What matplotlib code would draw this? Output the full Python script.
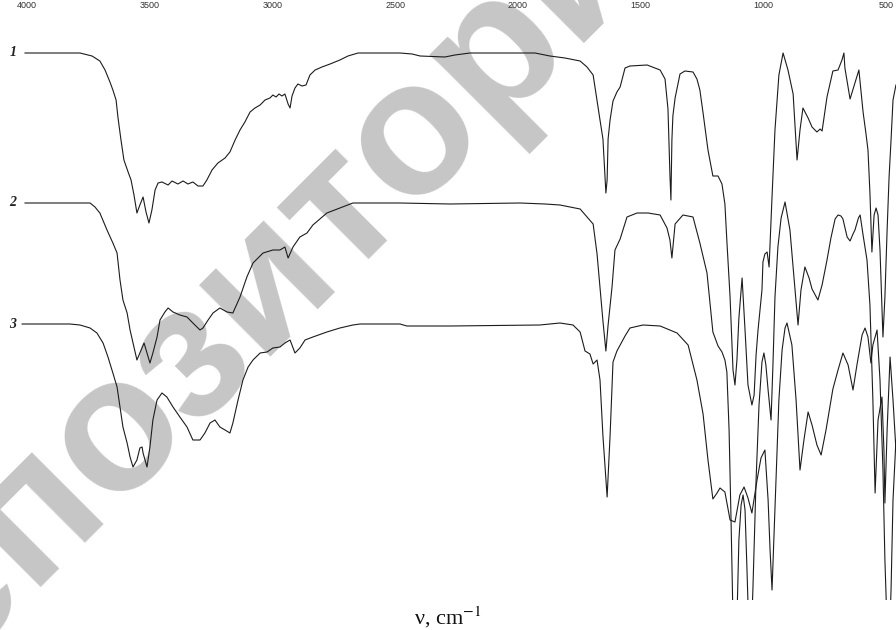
import matplotlib
matplotlib.use("Agg")
import matplotlib.pyplot as plt

# ---- data: IR spectra, wavenumber (cm-1) and relative transmittance (%) ----
nu_1 = [4008, 3866, 3784, 3735, 3703, 3682, 3662, 3650, 3637, 3629, 3617, 3605, 3588, 3576, 3564,
        3552, 3540, 3527, 3515, 3503, 3491, 3478, 3466, 3450, 3425, 3409, 3385, 3364, 3344, 3324,
        3303, 3283, 3267, 3246, 3222, 3193, 3173, 3152, 3132, 3112, 3091, 3071, 3050, 3030, 3010,
        2998, 2985, 2973, 2961, 2949, 2936, 2928, 2920, 2908, 2896, 2879, 2863, 2847, 2826, 2798,
        2765, 2725, 2692, 2651, 2480, 2431, 2398, 2297, 2256, 2195, 1930, 1869, 1808, 1746, 1718,
        1693, 1677, 1665, 1653, 1645, 1641, 1636, 1632, 1624, 1612, 1596, 1583, 1563, 1543, 1473,
        1420, 1400, 1388, 1380, 1376, 1372, 1368, 1359, 1339, 1319, 1286, 1270, 1258, 1245, 1225,
        1205, 1184, 1168, 1156, 1148, 1135, 1123, 1115, 1107, 1099, 1086, 1074, 1062, 1046, 1037,
        1029, 1021, 1005, 1001, 993, 984, 976, 964, 952, 936, 919, 899, 878, 862, 850,
        838, 817, 801, 781, 768, 760, 740, 716, 695, 679, 671, 667, 646, 626, 610,
        593, 581, 573, 565, 557, 548, 540, 532, 524, 512, 504, 495, 487, 479, 471, 459]
t_1 = [100, 100, 100, 99.25, 98, 95.75, 92.75, 90.75, 88.25, 83.75, 78.25, 73.25, 70.25, 68.25, 64.5,
       60, 62, 64, 60.25, 57.5, 60.75, 65.75, 67.5, 67.75, 67, 68, 67.25, 68, 67.25, 67.75,
       66.75, 66.75, 68.25, 70.75, 72.5, 73.75, 75.25, 78.25, 80.75, 82.75, 85.25, 86.25, 87, 88.25, 88.75,
       89.5, 89, 89.75, 89.25, 89.75, 87.25, 86.25, 89.25, 91.25, 92.25, 91.75, 92, 94.5, 95.75, 96.5,
       97.25, 98.25, 99.25, 100, 100, 99.75, 99.25, 99, 99.5, 100, 100, 99.25, 98.75, 98, 96.5,
       94.5, 88, 83.25, 78.5, 69.5, 65, 68.25, 78.5, 83.25, 88, 90.25, 91.5, 96.25, 96.75, 97,
       95.75, 93.5, 86, 69.5, 63.25, 78.25, 84.25, 88.75, 94.75, 95.5, 95.25, 93.5, 90.75, 85, 75.75,
       69.25, 69.25, 67.25, 62.25, 53, 39, 20.75, 17, 23.25, 33.75, 43.75, 30.75, 17, 12, 14.5,
       24.5, 30.75, 40.75, 47.75, 49.75, 50.25, 46.5, 64, 80.75, 94.5, 100, 95.75, 89.75, 73.25, 80.75,
       86.25, 83.75, 81.5, 80.25, 81, 80.5, 89, 95.5, 95.75, 98.25, 100, 96.25, 88.5, 92.5, 95.75,
       85.25, 79.75, 75.75, 65, 50.25, 59.5, 61.25, 59.5, 50.75, 29, 39, 55.75, 69, 78.25, 88.25, 92]

nu_2 = [4008, 3743, 3723, 3703, 3674, 3650, 3633, 3621, 3609, 3592, 3580, 3568, 3552, 3540, 3523,
        3511, 3499, 3487, 3470, 3458, 3438, 3425, 3405, 3377, 3348, 3324, 3295, 3283, 3262, 3242,
        3214, 3185, 3161, 3132, 3104, 3079, 3038, 2998, 2969, 2949, 2936, 2916, 2888, 2859, 2835,
        2778, 2725, 2672, 2615, 2480, 2276, 1991, 1889, 1828, 1746, 1693, 1677, 1665, 1653, 1641,
        1632, 1616, 1604, 1583, 1555, 1514, 1469, 1420, 1392, 1380, 1372, 1359, 1327, 1286, 1258,
        1229, 1205, 1184, 1168, 1156, 1148, 1139, 1131, 1123, 1115, 1107, 1099, 1090, 1082, 1074,
        1066, 1058, 1050, 1042, 1029, 1017, 1005, 997, 989, 980, 968, 960, 952, 940, 927,
        911, 891, 878, 858, 846, 830, 813, 801, 777, 760, 740, 724, 707, 695, 683,
        675, 658, 646, 634, 626, 612, 605, 593, 577, 565, 553, 544, 532, 516, 508,
        504, 495, 483, 471, 459]
t_2 = [99.75, 99.75, 98.75, 97.25, 93, 89.75, 87.25, 80.5, 75.5, 72.25, 68, 64.75, 60.5, 62.25, 64.75,
       62.25, 59.75, 62.25, 66.25, 70.5, 72.5, 73.5, 72.5, 71.75, 71.25, 69.75, 68, 68.5, 70.5, 72.25,
       73.5, 72.5, 72.25, 76.25, 81.25, 84.75, 87.25, 88, 88, 88.75, 86, 88.75, 91.25, 92.25, 94.25,
       97.25, 98.5, 99.75, 99.75, 99.75, 99.5, 99.75, 99.5, 99.25, 98.25, 94.5, 87, 78.75, 70.25, 62.75,
       69.25, 78.75, 88, 90.75, 96.25, 97.25, 97.25, 96.75, 93.5, 90.5, 86, 94.5, 96.75, 96.25, 89.75,
       82.25, 67.5, 64, 62.5, 60.5, 57.5, 43, 20.5, -4.5, -10.75, -4.5, 15.5, 24.25, 26.75, 23,
       8, -8.25, -10.75, 3, 30.5, 49.25, 60, 62.25, 59.25, 53, 45.5, 59.75, 76.25, 88.75, 96,
       100, 93, 83.75, 69.25, 78, 83.75, 81, 78.25, 75.5, 79.25, 85.5, 91, 95.75, 96.75, 96.5,
       95.75, 91.25, 90.25, 92, 93, 96, 96.75, 91.75, 85.5, 74.25, 50.5, 27.25, 45.5, 51.25, 38,
       24.75, 43, 61.25, 50.5, 38]

nu_3 = [4020, 3825, 3784, 3743, 3715, 3690, 3670, 3650, 3633, 3621, 3609, 3592, 3580, 3568, 3552,
        3540, 3531, 3527, 3511, 3499, 3487, 3470, 3450, 3430, 3405, 3377, 3348, 3324, 3295, 3275,
        3254, 3234, 3214, 3193, 3173, 3161, 3140, 3120, 3099, 3079, 3050, 3022, 2998, 2969, 2949,
        2928, 2908, 2888, 2867, 2835, 2778, 2725, 2672, 2643, 2480, 2452, 2276, 1910, 1828, 1775,
        1746, 1726, 1706, 1693, 1677, 1665, 1653, 1636, 1624, 1612, 1596, 1583, 1563, 1543, 1490,
        1420, 1351, 1306, 1270, 1245, 1225, 1205, 1188, 1176, 1156, 1135, 1115, 1095, 1078, 1062,
        1046, 1025, 1009, 993, 980, 972, 964, 948, 936, 923, 911, 903, 883, 866, 850,
        834, 817, 801, 781, 764, 744, 716, 695, 675, 654, 634, 618, 597, 585, 573,
        561, 553, 536, 524, 512, 504, 495, 487, 479, 471, 459]
t_3 = [100, 100, 99.75, 99, 97.75, 95.25, 91.75, 87.75, 84.25, 79.25, 74.25, 70.25, 66.75, 64.25, 66,
       69, 69.25, 67.75, 64.25, 69.25, 76, 81, 82.75, 81.75, 79.25, 76.75, 74.25, 71, 71, 72.75,
       75.25, 76, 74.25, 73.5, 72.75, 75.25, 81, 86, 89.25, 91, 92.75, 93, 94, 94.25, 95.25,
       96, 92.75, 94, 96, 96.75, 98, 99, 99.75, 100, 100, 99.5, 99.5, 99.75, 100.25, 99.75,
       98, 93.25, 92.5, 90, 91, 86, 72, 56.75, 72, 90.5, 93.25, 94.75, 97, 99, 99.75,
       99.5, 97.75, 94.75, 86, 77.5, 66, 56.25, 57.75, 59, 58, 51, 50.5, 57.25, 59.25, 56.5,
       52.75, 61, 66.5, 68.5, 56, 43.5, 33.5, 61, 81, 93.5, 99, 100.25, 94.75, 81, 63.5,
       71, 78, 74.75, 69.75, 67.25, 73.5, 83.75, 88.5, 92.75, 89.75, 83.5, 89.75, 97.25, 99, 96.75,
       90.25, 94.75, 98.5, 86, 63.5, 41, 23.5, 18.5, 33.5, 56, 71]

labels = ["1", "2", "3"]
tick_values = [4000, 3500, 3000, 2500, 2000, 1500, 1000, 500]
offsets = [0.0, -37.25, -67.75]
watermark = "репозиторий"

# ---- figure ----
plt.rcParams["mathtext.fontset"] = "stix"
fig = plt.figure(figsize=(8.96, 6.30), dpi=100)
ax = fig.add_axes([0.0, 30 / 630, 1.0, 588 / 630])
ax.set_facecolor("none")

# watermark (behind curves), runs off the picture edges as in the original
ax.text(268 / 896, 1 - 274 / 630, watermark, transform=fig.transFigure,
        rotation=45, rotation_mode="anchor", ha="center", va="center",
        fontsize=138, fontweight="bold", family="Liberation Sans",
        color="#c6c6c6", zorder=0, clip_on=False)

series = [(nu_1, t_1), (nu_2, t_2), (nu_3, t_3)]
for (nu, t), off, lab in zip(series, offsets, labels):
    ax.plot(nu, [v + off for v in t], color="#1c1c1c", lw=0.8, zorder=3)
    ax.text(4058, 100 + off, lab, ha="center", va="center", fontsize=10,
            family="Liberation Serif", style="italic", fontweight="bold",
            color="#222222", zorder=4)

ax.set_xlim(4110, 458.8)
ax.set_ylim(-36.75, 110.25)

ax.xaxis.tick_top()
ax.set_xticks(tick_values)
ax.set_xticklabels([str(v) for v in tick_values])
ax.tick_params(axis="x", length=0, pad=1.5, labelsize=6.5, labelcolor="#333333")
for lbl in ax.get_xticklabels():
    lbl.set_family("Liberation Sans")
ax.set_yticks([])
for s in ax.spines.values():
    s.set_visible(False)

fig.text(448 / 896, 1 - 617 / 630, "ν, cm$^{-1}$", ha="center", va="center",
         fontsize=16, family="Liberation Serif", color="#111111", zorder=5)

fig.savefig("out.png", dpi=100)
